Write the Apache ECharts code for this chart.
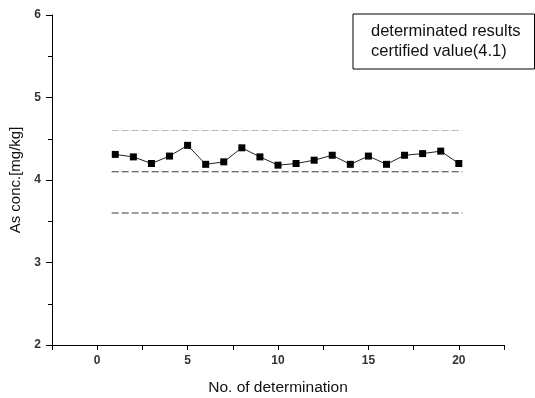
<!DOCTYPE html>
<html>
<head>
<meta charset="utf-8">
<script src="https://cdn.jsdelivr.net/npm/echarts@6/dist/echarts.min.js"></script>
<style>
  html, body { margin: 0; padding: 0; background: #fff; }
  #chart { width: 535px; height: 398px; }
</style>
</head>
<body>
<div id="chart"></div>
<script>
// measurement number and measured As concentration
var runNo = [1, 2, 3, 4, 5, 6, 7, 8, 9, 10, 11, 12, 13, 14, 15, 16, 17, 18, 19, 20];
var asConc = [4.31, 4.28, 4.20, 4.29, 4.42, 4.19, 4.22, 4.39, 4.28, 4.18,
              4.20, 4.24, 4.30, 4.19, 4.29, 4.19, 4.30, 4.32, 4.35, 4.20];
var certified = 4.1;       // certified value
var upperLimit = 4.6;      // certified + 0.5
var lowerLimit = 3.6;      // certified - 0.5
var refSpan = [0.8, 20.2]; // x extent of the dashed reference lines

function refLine(v) {
    return [[refSpan[0], v], [refSpan[1], v]];
}

var chart = echarts.init(document.getElementById('chart'));
var font = 'Liberation Sans, Arial, sans-serif';

chart.setOption({
    animation: false,
    textStyle: { fontFamily: font },
    grid: { left: 52, right: 31, top: 15, bottom: 53, outerBoundsMode: 'none' },
    legend: {
        data: ['determinated results', 'certified value(4.1)'],
        orient: 'vertical',
        left: 353, top: 14,
        icon: 'none',
        itemWidth: 0, itemGap: 3,
        padding: [9, 14, 9, 13],
        borderColor: '#000', borderWidth: 1,
        textStyle: { fontSize: 16.5, color: '#111', fontFamily: font, padding: 0 }
    },
    xAxis: {
        type: 'value',
        min: -2.5, max: 22.5, interval: 2.5,
        name: 'No. of determination',
        nameLocation: 'middle', nameGap: 35,
        nameTextStyle: { fontSize: 15.5, color: '#111' },
        axisLine: { onZero: false, lineStyle: { color: '#000', width: 1 } },
        axisTick: { show: true, length: 5, inside: false, lineStyle: { color: '#000' } },
        axisLabel: {
            fontSize: 12, fontWeight: 'bold', color: '#333', margin: 10,
            formatter: function (v) { return v % 5 === 0 ? String(v) : ''; }
        },
        splitLine: { show: false }
    },
    yAxis: {
        type: 'value',
        min: 2, max: 6, interval: 1,
        name: 'As conc.[mg/kg]',
        nameLocation: 'middle', nameGap: 28,
        nameTextStyle: { fontSize: 15, color: '#111' },
        axisLine: { show: true, onZero: false, lineStyle: { color: '#000', width: 1 } },
        axisTick: { show: true, length: 6, lineStyle: { color: '#000' } },
        minorTick: { show: true, splitNumber: 2, length: 4, lineStyle: { color: '#000' } },
        axisLabel: { fontSize: 12, fontWeight: 'bold', color: '#333', margin: 11 },
        splitLine: { show: false }
    },
    series: [
        {
            name: 'determinated results',
            type: 'line',
            data: runNo.map(function (n, i) { return [n, asConc[i]]; }),
            symbol: 'rect', symbolSize: 7,
            itemStyle: { color: '#000' },
            lineStyle: { color: '#222', width: 1 }
        },
        {
            name: 'certified value(4.1)',
            type: 'line',
            data: refLine(certified),
            symbol: 'none',
            lineStyle: { color: '#3a3a3a', width: 1, type: [7, 3] }
        },
        {
            name: 'upper',
            type: 'line',
            data: refLine(upperLimit),
            symbol: 'none',
            lineStyle: { color: '#bbb', width: 1, type: [7, 3] }
        },
        {
            name: 'lower',
            type: 'line',
            data: refLine(lowerLimit),
            symbol: 'none',
            lineStyle: { color: '#3a3a3a', width: 1, type: [7, 3] }
        }
    ]
});
</script>
</body>
</html>
